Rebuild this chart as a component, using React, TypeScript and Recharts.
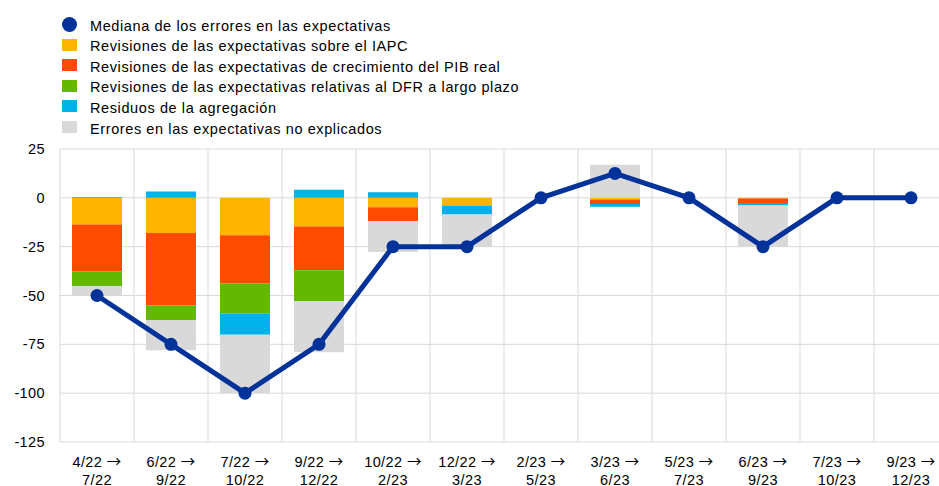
import React from "react";
import { ComposedChart, Bar, Line, XAxis, YAxis, CartesianGrid } from "recharts";

const fromLabels = ["4/22", "6/22", "7/22", "9/22", "10/22", "12/22", "2/23", "3/23", "5/23", "6/23", "7/23", "9/23"];
const toLabels = ["7/22", "9/22", "10/22", "12/22", "2/23", "3/23", "5/23", "6/23", "7/23", "9/23", "10/23", "12/23"];

const median = [-50, -75, -100, -75, -25, -25, 0, 12.5, 0, -25, 0, 0];
const iapc = [-13.6, -18, -19.2, -14.7, -4.8, -3.9, 0, -0.9, 0, -0.4, 0, 0];
const pib = [-24, -37, -24.7, -22.4, -7, 0, 0, -2.3, 0, -2.2, 0, 0];
const dfr = [-7.7, -7.6, -15.3, -15.9, 0, 0, 0, 0, 0, 0, 0, 0];
const resid = [0.4, 3.2, -10.9, 4.2, 2.9, -4.6, 0, -1.4, 0, -1.3, 0, 0];
const unexpl = [-4.7, -15.4, -29.9, -26, -15.9, -16.7, 0, 17, 0, -21.3, 0, 0];

const yTicks = [-125, -100, -75, -50, -25, 0, 25];

const legendItems = [
  { label: "Mediana de los errores en las expectativas", color: "#003299", circle: true },
  { label: "Revisiones de las expectativas sobre el IAPC", color: "#FFB400" },
  { label: "Revisiones de las expectativas de crecimiento del PIB real", color: "#FF4B00" },
  { label: "Revisiones de las expectativas relativas al DFR a largo plazo", color: "#65B800" },
  { label: "Residuos de la agregación", color: "#00B1EA" },
  { label: "Errores en las expectativas no explicados", color: "#D9D9D9" },
];

const data = fromLabels.map((f, i) => ({
  name: f + " → " + toLabels[i],
  from: f,
  to: toLabels[i],
  median: median[i],
  iapc: iapc[i],
  pib: pib[i],
  dfr: dfr[i],
  resid: resid[i],
  unexpl: unexpl[i],
}));

const FONT = "'Liberation Sans', Arial, Helvetica, sans-serif";

const XTick = (props: any) => {
  const { x, y, payload } = props;
  const d = data[payload.index];
  return (
    <text x={x} y={y} textAnchor="middle" fontSize={14.5} fill="#000" fontFamily={FONT} letterSpacing={0.4}>
      <tspan x={x} dy={16.5}>
        {d.from + " "}
        <tspan fontFamily="'Noto Sans CJK JP', 'DejaVu Sans', sans-serif">→</tspan>
      </tspan>
      <tspan x={x} dy={18}>{d.to}</tspan>
    </text>
  );
};

export default function App() {
  return (
    <div
      style={{
        position: "fixed",
        left: 0,
        top: 0,
        width: 939,
        height: 486,
        overflow: "hidden",
        background: "#fff",
        fontFamily: FONT,
      }}
    >
      <div style={{ position: "absolute", left: 0, top: 0 }}>
        {legendItems.map((it, i) => (
          <div
            key={it.label}
            style={{
              position: "absolute",
              left: 62,
              top: 24 + i * 20.6 - 10,
              height: 20,
              width: 700,
              display: "flex",
              alignItems: "center",
              whiteSpace: "nowrap",
            }}
          >
            {it.circle ? (
              <span
                style={{
                  display: "inline-block",
                  width: 15,
                  height: 15,
                  borderRadius: "50%",
                  background: it.color,
                }}
              />
            ) : (
              <span style={{ display: "inline-block", width: 15, height: 12, background: it.color }} />
            )}
            <span
              style={{
                marginLeft: 13,
                fontSize: 14.5,
                letterSpacing: 0.6,
                color: "#000",
                position: "relative",
                top: 1.5,
              }}
            >
              {it.label}
            </span>
          </div>
        ))}
      </div>
      <div style={{ position: "absolute", left: 0, top: 0 }}>
        <ComposedChart
          width={960}
          height={486}
          data={data}
          stackOffset="sign"
          margin={{ top: 149, right: 12, left: 0, bottom: 0 }}
        >
          <CartesianGrid
            stroke="#d9d9d9"
            strokeWidth={1}
            verticalCoordinatesGenerator={({ offset }: any) =>
              Array.from({ length: data.length + 1 }, (_, i) => offset.left + (i * offset.width) / data.length)
            }
          />
          <XAxis
            dataKey="name"
            height={44}
            axisLine={false}
            tickLine={false}
            interval={0}
            tick={<XTick />}
          />
          <YAxis
            width={60}
            domain={[-125, 25]}
            ticks={yTicks}
            axisLine={false}
            tickLine={false}
            tickSize={6}
            tickMargin={9}
            tick={{ fontSize: 14.5, fill: "#000", fontFamily: FONT, letterSpacing: 0.4 }}
            interval={0}
          />
          <Bar dataKey="iapc" stackId="a" fill="#FFB400" barSize={50} isAnimationActive={false} />
          <Bar dataKey="pib" stackId="a" fill="#FF4B00" barSize={50} isAnimationActive={false} />
          <Bar dataKey="dfr" stackId="a" fill="#65B800" barSize={50} isAnimationActive={false} />
          <Bar dataKey="resid" stackId="a" fill="#00B1EA" barSize={50} isAnimationActive={false} />
          <Bar dataKey="unexpl" stackId="a" fill="#D9D9D9" barSize={50} isAnimationActive={false} />
          <Line
            dataKey="median"
            stroke="#003299"
            strokeWidth={5}
            dot={{ r: 6.5, fill: "#003299", stroke: "#003299", strokeWidth: 0 }}
            activeDot={false}
            isAnimationActive={false}
          />
        </ComposedChart>
      </div>
    </div>
  );
}
